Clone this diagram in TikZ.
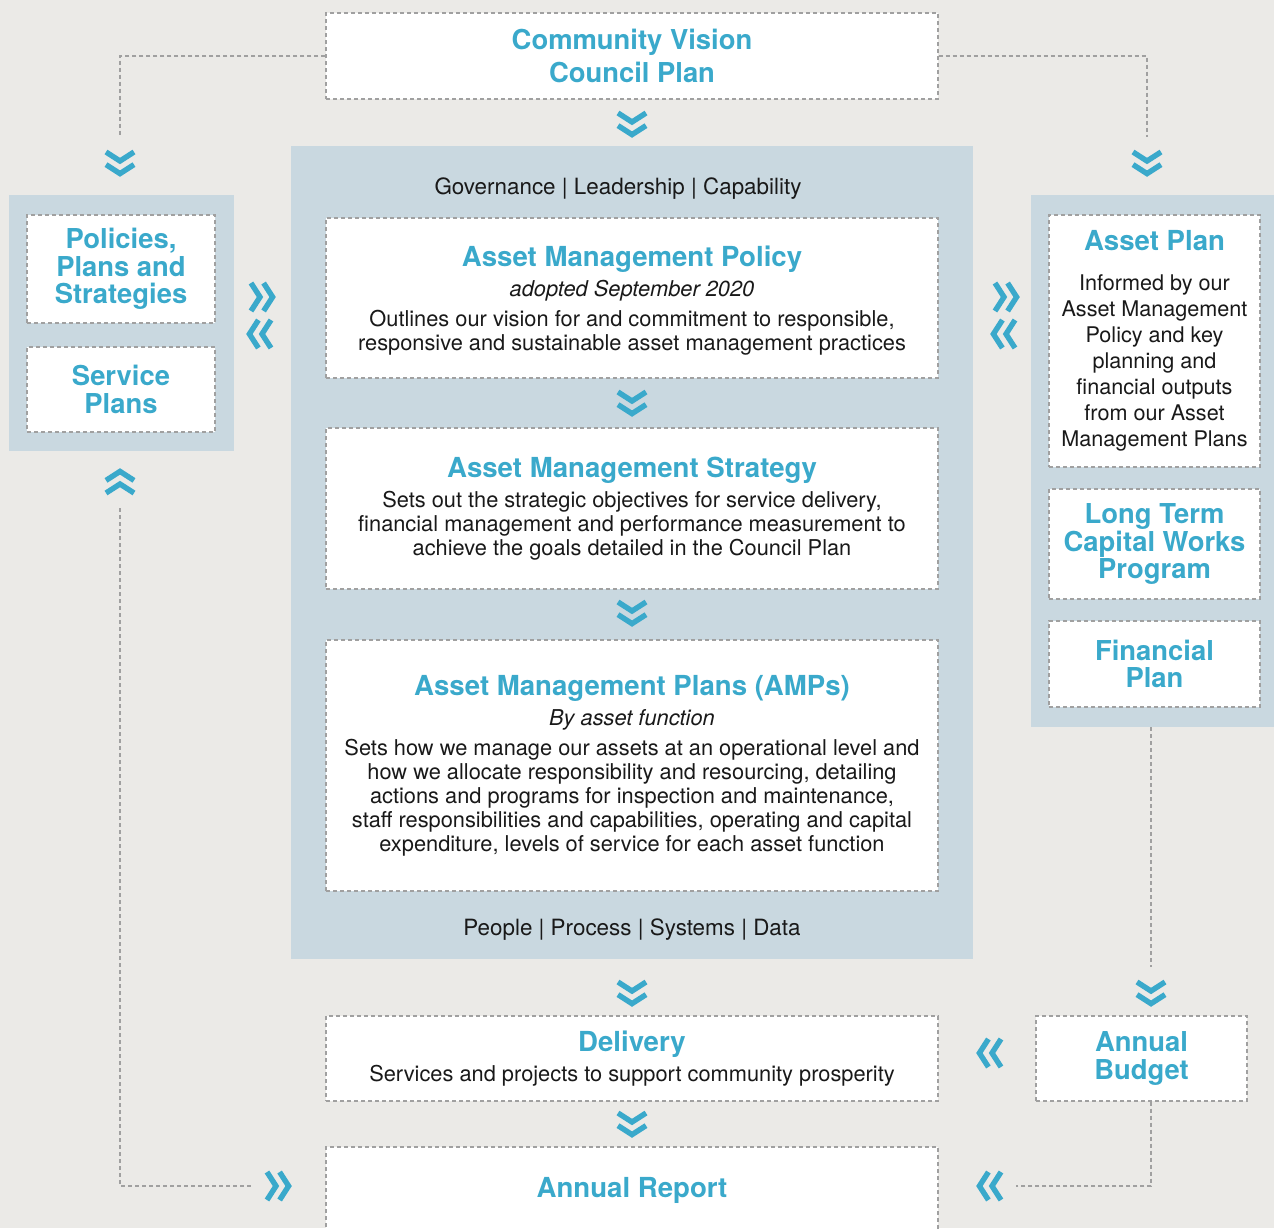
\documentclass[tikz,border=0pt]{standalone}
\usepackage{fontspec}
\setmainfont{TeX Gyre Heros}
\definecolor{bgcol}{RGB}{235,234,231}
\definecolor{panelcol}{RGB}{201,216,224}
\definecolor{tealcol}{RGB}{58,169,203}
\definecolor{dashcol}{RGB}{160,160,160}
\definecolor{inkcol}{RGB}{25,25,25}
\newcommand{\hd}[1]{{\color{tealcol}\bfseries\fontsize{13.8}{13.8}\selectfont #1}}
\tikzset{
  box/.style={draw=dashcol, dash pattern=on 2pt off 1.5pt, line width=0.6pt,
    fill=white, align=center, inner sep=0pt, text=inkcol,
    font=\fontsize{10.9}{12}\selectfont},
  headbox/.style={box, text=tealcol, font=\bfseries\fontsize{13.7}{13.75}\selectfont},
  panel/.style={fill=panelcol, inner sep=0pt},
  band/.style={text=inkcol, font=\fontsize{11.2}{12}\selectfont},
  link/.style={draw=dashcol, dash pattern=on 2pt off 1.5pt, line width=0.6pt},
  chevline/.style={tealcol, line width=2.7pt, line join=miter,
    shift={(path picture bounding box.center)}},
  chev/.style={minimum size=26pt, inner sep=0pt},
  chevdown/.style={chev, path picture={\draw [chevline]
      (-7pt,5.5pt) -- (0pt,1pt) -- (7pt,5.5pt)
      (-7pt,-0.8pt) -- (0pt,-5.3pt) -- (7pt,-0.8pt);}},
  chevup/.style={chev, path picture={\draw [chevline]
      (-7pt,-5.5pt) -- (0pt,-1pt) -- (7pt,-5.5pt)
      (-7pt,0.8pt) -- (0pt,5.3pt) -- (7pt,0.8pt);}},
  chevright/.style={chev, path picture={\draw [chevline]
      (-5.5pt,-7pt) -- (-1pt,0pt) -- (-5.5pt,7pt)
      (0.8pt,-7pt) -- (5.3pt,0pt) -- (0.8pt,7pt);}},
  chevleft/.style={chev, path picture={\draw [chevline]
      (5.5pt,-7pt) -- (1pt,0pt) -- (5.5pt,7pt)
      (-0.8pt,-7pt) -- (-5.3pt,0pt) -- (-0.8pt,7pt);}},
}
\begin{document}
\begin{tikzpicture}[x=0.5pt, y=-0.5pt]
\useasboundingbox (0,0) rectangle (1274,1228);
\fill [bgcol] (0,0) rectangle (1274,1228);

\node (core)   at (632,552.5)  [panel, minimum width=341pt, minimum height=406.5pt] {};
\node (lpanel) at (121.5,323)  [panel, minimum width=112.5pt, minimum height=128pt] {};
\node (rpanel) at (1152.5,461) [panel, minimum width=121.5pt, minimum height=266pt] {};

\node (vision) at (632,56) [headbox, minimum width=306pt, minimum height=43pt]
  {Community Vision\\[2.75pt] Council Plan};
\node (gov) at (618,189) [band] {Governance | Leadership | Capability};
\node (policy) at (632,298) [box, minimum width=306pt, minimum height=80pt]
  {\rule{0pt}{13pt}\hd{Asset Management Policy}\\[3pt]
   \textit{adopted September 2020}\\[3pt]
   Outlines our vision for and commitment to responsible,\\
   responsive and sustainable asset management practices};
\node (strategy) at (632,508.5) [box, minimum width=306pt, minimum height=80.5pt]
  {\hd{Asset Management Strategy}\\[3pt]
   Sets out the strategic objectives for service delivery,\\
   financial management and performance measurement to\\
   achieve the goals detailed in the Council Plan};
\node (amps) at (632,765.5) [box, minimum width=306pt, minimum height=125.5pt]
  {\hd{Asset Management Plans (AMPs)}\\[3pt]
   \textit{By asset function}\\[3pt]
   Sets how we manage our assets at an operational level and\\
   how we allocate responsibility and resourcing, detailing\\
   actions and programs for inspection and maintenance,\\
   staff responsibilities and capabilities, operating and capital\\
   expenditure, levels of service for each asset function};
\node (people) at (632,930) [band] {People | Process | Systems | Data};
\node (delivery) at (632,1058.5) [box, minimum width=306pt, minimum height=42.5pt]
  {\hd{Delivery}\\[3pt]
   Services and projects to support community prosperity};
\node (report) at (632,1190) [box, minimum width=306pt, minimum height=43pt]
  {\hd{Annual Report}};

\node (plans)   at (121,269)   [headbox, minimum width=94pt, minimum height=54pt]
  {Policies,\\Plans and\\Strategies};
\node (service) at (121,389.5) [headbox, minimum width=94pt, minimum height=42.5pt]
  {Service\\Plans};

\node (assetplan) at (1154.5,341) [box, minimum width=105.5pt, minimum height=126pt,
  font=\fontsize{10.8}{13}\selectfont]
  {\hd{Asset Plan}\\[7pt]
   Informed by our\\Asset Management\\Policy and key\\planning and\\
   financial outputs\\from our Asset\\Management Plans};
\node (capworks) at (1154.5,544) [headbox, minimum width=105.5pt, minimum height=55pt]
  {Long Term\\Capital Works\\Program};
\node (finplan)  at (1154.5,664) [headbox, minimum width=105.5pt, minimum height=43pt]
  {Financial\\Plan};
\node (budget)   at (1141.5,1058.5) [headbox, minimum width=105.5pt, minimum height=42.5pt]
  {Annual\\Budget};

\node (c1)    at (632,124)   [chevdown] {};
\node (c2)    at (632,403)   [chevdown] {};
\node (c3)    at (632,613)   [chevdown] {};
\node (c4)    at (632,993)   [chevdown] {};
\node (c5)    at (632,1124)  [chevdown] {};
\node (cL)    at (120,163)   [chevdown] {};
\node (cR)    at (1147,163)  [chevdown] {};
\node (cFin)  at (1151,993)  [chevdown] {};
\node (cLup)  at (120,482)   [chevup] {};
\node (cPin)  at (262,297)   [chevright] {};
\node (cPout) at (260,334)   [chevleft] {};
\node (cAin)  at (1006,297)  [chevright] {};
\node (cAout) at (1004,334)  [chevleft] {};
\node (cRep)  at (278,1186)  [chevright] {};
\node (cDel)  at (990,1053)  [chevleft] {};
\node (cBud)  at (990,1186)  [chevleft] {};

\draw [link] (vision.west) -| (cL.north);
\draw [link] (vision.east) -| (cR.north);
\draw [link] (cLup.south) |- (cRep.west);
\draw [link] (cFin.north |- rpanel.south) -- (cFin.north);
\draw [link] (budget.south -| cFin) |- (cBud.east);
\end{tikzpicture}
\end{document}
